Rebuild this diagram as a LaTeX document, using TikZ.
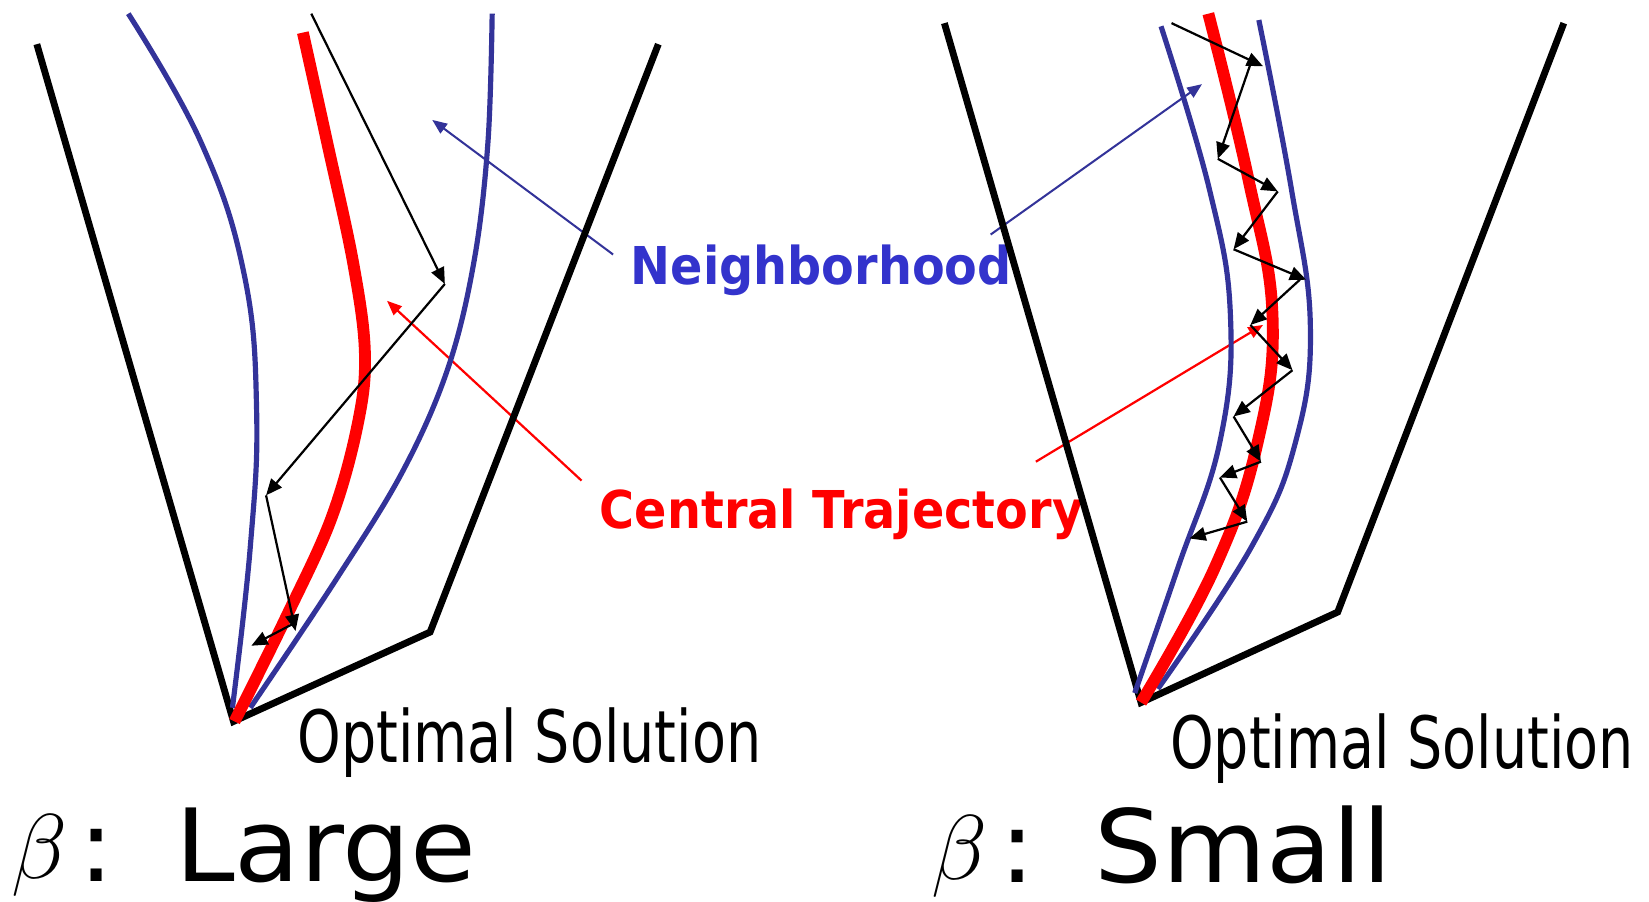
\documentclass[tikz,border=0pt]{standalone}
\usepackage{fontspec}
\usepackage{graphicx}
\setsansfont{DejaVu Sans}
\usetikzlibrary{arrows.meta}
\definecolor{nbblue}{RGB}{51,51,153}
\definecolor{nbtext}{RGB}{51,51,204}
\newcommand\boldlab[1]{{\fontsize{14.1pt}{16pt}\selectfont\sffamily\bfseries\scalebox{0.915}[1]{#1}}}
\newcommand\optlab[1]{{\fontsize{19.5pt}{22pt}\selectfont\sffamily\scalebox{0.77}[1]{#1}}}
\newcommand\biglab[1]{{\fontsize{27.3pt}{30pt}\selectfont\sffamily\scalebox{1.06}[1]{#1}}}
\newcommand\betalab{{\fontsize{31pt}{34pt}\selectfont$\beta$}}
\begin{document}
\begin{tikzpicture}[x=0.01cm,y=-0.01cm,
  lab/.style={inner sep=0pt,outer sep=0pt,anchor=base west},
  wall/.style={line width=1.85pt,line join=miter},
  nbhd/.style={draw=nbblue,line width=1.4pt},
  ctraj/.style={draw=red,line width=3.2pt},
  jump/.style={line width=0.6pt,-{Triangle[length=4.4pt,width=3.7pt]}},
  bluearr/.style={draw=nbblue,line width=0.55pt,-{Triangle[length=4pt,width=3.2pt]}},
  redarr/.style={draw=red,line width=0.6pt,-{Triangle[length=4pt,width=3.2pt]}}]
\useasboundingbox (0,0) rectangle (1568,857);

% ---- labels ----
\node[lab,text=nbtext] (nbh) at (600,270.3) {\boldlab{Neighborhood}};
\node[lab,text=red] (ctr) at (570.5,503) {\boldlab{Central Trajectory}};
\node[lab] (opt1) at (283,725) {\optlab{Optimal Solution}};
\node[lab] (opt2) at (1112.7,731) {\optlab{Optimal Solution}};
\node[lab] (beta1) at (11,835) {\betalab};
\node[inner sep=0pt,anchor=base] (col1) at (91.5,838) {\biglab{:}};
\node[lab] (large) at (166.5,838) {\biglab{Large}};
\node[lab] (beta2) at (886,836) {\betalab};
\node[inner sep=0pt,anchor=base] (col2) at (968,839) {\biglab{:}};
\node[lab] (small) at (1040.7,839) {\biglab{Small}};

% ---- label pointers ----
\coordinate (nbL) at (583,242);  \coordinate (nbLt) at (411,114);
\coordinate (ctL) at (553,457);  \coordinate (ctLt) at (368,286);
\coordinate (nbR) at (942,223);  \coordinate (nbRt) at (1143,80);
\coordinate (ctR) at (985,439);  \coordinate (ctRt) at (1201,309);
\draw[bluearr] (nbL) -- (nbLt);
\draw[redarr] (ctL) -- (ctLt);
\draw[bluearr] (nbR) -- (nbRt);
\draw[redarr] (ctR) -- (ctRt);

% ---- left panel ----
\draw[wall] (35,42) -- (222,686) -- (409,601) -- (626,42);
\draw[nbhd] plot[smooth,tension=0.7] coordinates {(122,13) (191,135) (232,260) (244,390) (238,520) (221,673)};
\draw[nbhd] plot[smooth,tension=0.6] coordinates {(468,13) (464,135) (451,247) (426,350) (383,448) (319,552) (238,673)};
\draw[ctraj] plot[smooth,tension=0.6] coordinates {(288,31) (311,135) (336,251) (347,336) (340,404) (315,493) (272,587) (223,686)};

\coordinate (l0) at (296,13);
\coordinate (l1) at (423,270);
\coordinate (l2) at (253,471);
\coordinate (l3) at (281,600);
\coordinate (l3b) at (279,593);
\coordinate (l4) at (239,614);
\draw[jump] (l0) -- (l1);
\draw[jump] (l1) -- (l2);
\draw[jump] (l2) -- (l3);
\draw[jump] (l3b) -- (l4);

% ---- right panel ----
\draw[wall] (898,22) -- (1085,668) -- (1272,582) -- (1487,22);
\draw[nbhd] plot[smooth,tension=0.7] coordinates {(1104,25) (1150,180) (1170,300) (1160,420) (1120,540) (1079,659)};
\draw[nbhd] plot[smooth,tension=0.7] coordinates {(1197,19) (1228,180) (1246,310) (1232,420) (1190,520) (1101,655)};
\draw[ctraj] plot[smooth,tension=0.7] coordinates {(1149,13) (1187,170) (1210,300) (1196,420) (1155,540) (1085,668)};

\coordinate (r0) at (1114,22);
\coordinate (r1) at (1201,63);
\coordinate (r1b) at (1189,61);
\coordinate (r2) at (1158,151);
\coordinate (r3) at (1215,182);
\coordinate (r4) at (1173,237);
\coordinate (r5) at (1242,266);
\coordinate (r5b) at (1236,266);
\coordinate (r6) at (1189,309);
\coordinate (r7) at (1229,352);
\coordinate (r8) at (1173,396);
\coordinate (r9) at (1199,439);
\coordinate (r10) at (1160,454);
\coordinate (r11) at (1186,496);
\coordinate (r12) at (1131,512);
\draw[jump] (r0) -- (r1);
\draw[jump] (r1b) -- (r2);
\draw[jump] (r2) -- (r3);
\draw[jump] (r3) -- (r4);
\draw[jump] (r4) -- (r5);
\draw[jump] (r5b) -- (r6);
\draw[jump] (r6) -- (r7);
\draw[jump] (r7) -- (r8);
\draw[jump] (r8) -- (r9);
\draw[jump] (r9) -- (r10);
\draw[jump] (r10) -- (r11);
\draw[jump] (r11) -- (r12);
\end{tikzpicture}
\end{document}
